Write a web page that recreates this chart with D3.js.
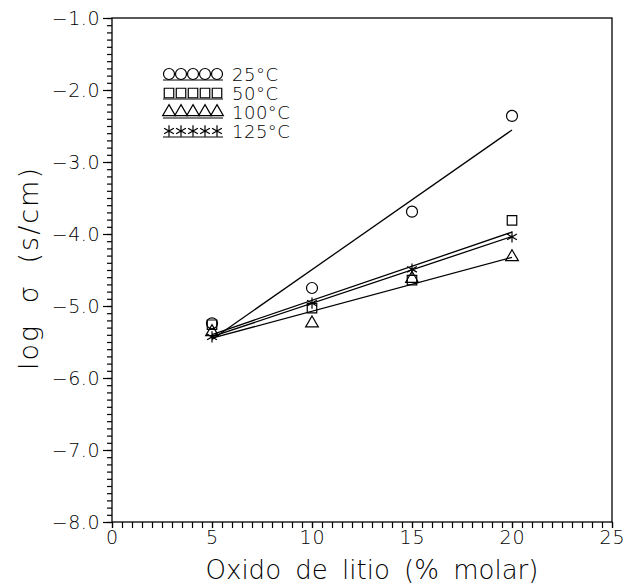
<!DOCTYPE html>
<html>
<head>
<meta charset="utf-8">
<script src="https://cdn.jsdelivr.net/npm/d3@7"></script>
<style>
  body { margin: 0; background: #fff; }
  svg text { font-family: "DejaVu Sans", "Liberation Sans", sans-serif; font-weight: 200; fill: #000; }
</style>
</head>
<body>
<div id="chart"></div>
<script>
// Data
const xValues = [5, 10, 15, 20]
const series = [
   { name: "25°C",  symbol: "circle",   values: [-5.24, -4.75, -3.69, -2.36] },
   { name: "50°C",  symbol: "square",   values: [-5.26, -5.03, -4.64, -3.81] },
   { name: "100°C", symbol: "triangle", values: [-5.36, -5.24, -4.62, -4.32] },
   { name: "125°C", symbol: "star",     values: [-5.43, -4.96, -4.49, -4.04] }
]
const xTicks = [0, 5, 10, 15, 20, 25]
const yTicks = [-1, -2, -3, -4, -5, -6, -7, -8]

const width = 637, height = 586
const margin = { top: 18, right: 25, bottom: 64, left: 112 }

const svg = d3.select("#chart").append("svg")
   .attr("width", width)
   .attr("height", height)

const x = d3.scaleLinear().domain([0, 25]).range([margin.left, width - margin.right])
const y = d3.scaleLinear().domain([-8, -1]).range([height - margin.bottom, margin.top])

// Frame
svg.append("rect")
   .attr("x", x(0)).attr("y", y(-1))
   .attr("width", x(25) - x(0)).attr("height", y(-8) - y(-1))
   .attr("fill", "none").attr("stroke", "#000").attr("stroke-width", 1.3)

// X axis: major + minor ticks
const xAxis = svg.append("g").attr("transform", `translate(0,${y(-8)})`)
xAxis.call(d3.axisBottom(x).tickValues(d3.range(0, 25.01, 0.5)).tickSize(6).tickFormat(""))
xAxis.call(g => g.select(".domain").remove())
const xMajor = svg.append("g").attr("transform", `translate(0,${y(-8)})`)
   .call(d3.axisBottom(x).tickValues(xTicks).tickSize(6).tickPadding(3).tickFormat(d3.format("d")))
xMajor.select(".domain").remove()
xMajor.selectAll("text").attr("font-size", 19).attr("letter-spacing", 1)

// Y axis
const yAxis = svg.append("g").attr("transform", `translate(${x(0)},0)`)
yAxis.call(d3.axisLeft(y).tickValues(d3.range(-8, -0.99, 0.1)).tickSize(5).tickFormat(""))
yAxis.call(g => g.select(".domain").remove())
const yMajor = svg.append("g").attr("transform", `translate(${x(0)},0)`)
   .call(d3.axisLeft(y).tickValues(yTicks).tickSize(9).tickPadding(3)
      .tickFormat(d => d3.format(".1f")(d).replace("-", "\u2212")))
yMajor.select(".domain").remove()
yMajor.selectAll("text").attr("font-size", 19).attr("letter-spacing", 0.5)

svg.selectAll(".tick line").attr("stroke", "#000").attr("stroke-width", 1.2)

// Axis titles
svg.append("text")
   .attr("x", 372).attr("y", 579)
   .attr("text-anchor", "middle")
   .attr("font-size", 26)
   .attr("word-spacing", 6)
   .text("Oxido de litio (% molar)")

svg.append("text")
   .attr("transform", "translate(38,268) rotate(-90)")
   .attr("text-anchor", "middle")
   .attr("font-size", 27)
   .attr("letter-spacing", 2)
   .attr("word-spacing", 10)
   .text("log σ (s/cm)")

// Symbols
const symbolPath = {
   circle: d3.symbol(d3.symbolCircle, 95)(),
   square: d3.symbol(d3.symbolSquare, 90)(),
   triangle: d3.symbol(d3.symbolTriangle, 70)(),
   star: d3.symbol(d3.symbolAsterisk, 90)()
}

function drawSymbol(g, kind, cx, cy) {
   g.append("path")
      .attr("d", symbolPath[kind])
      .attr("transform", `translate(${cx},${cy})`)
      .attr("fill", "none")
      .attr("stroke", "#000")
      .attr("stroke-width", 1.2)
}

// Least-squares lines and points
const marks = svg.append("g")
series.forEach(s => {
   let mx = d3.mean(xValues), my = d3.mean(s.values)
   let slope = d3.sum(xValues, (v, i) => (v - mx) * (s.values[i] - my)) / d3.sum(xValues, v => (v - mx) ** 2)
   let fit = v => my + slope * (v - mx)
   marks.append("line")
      .attr("x1", x(5)).attr("y1", y(fit(5)))
      .attr("x2", x(20)).attr("y2", y(fit(20)))
      .attr("stroke", "#000").attr("stroke-width", 1.3)
   s.values.forEach((v, i) => drawSymbol(marks, s.symbol, x(xValues[i]), y(v)))
})

// Legend
const legend = svg.append("g")
series.forEach((s, i) => {
   let ly = 74 + i * 19
   for (let k = 0; k < 5; k++) drawSymbol(legend, s.symbol, 169 + k * 12, ly)
   legend.append("line")
      .attr("x1", 163).attr("x2", 223)
      .attr("y1", ly + 6).attr("y2", ly + 6)
      .attr("stroke", "#000").attr("stroke-width", 1.2)
   legend.append("text")
      .attr("x", 232).attr("y", ly + 7)
      .attr("font-size", 18)
      .attr("letter-spacing", 0.5)
      .text(s.name)
})
</script>
</body>
</html>
